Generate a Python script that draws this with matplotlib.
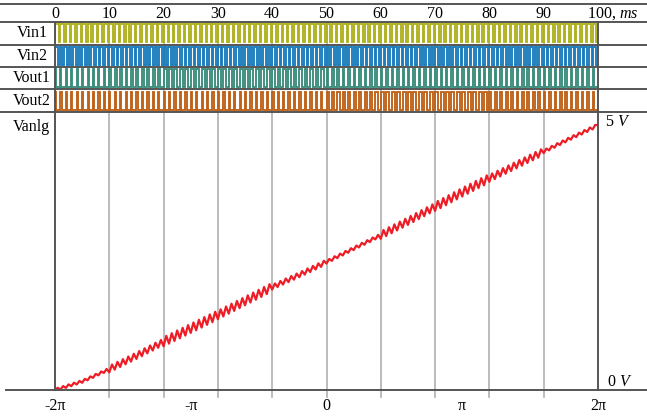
import numpy as np
import matplotlib
matplotlib.use("Agg")
import matplotlib.pyplot as plt
from matplotlib.lines import Line2D

plt.rcParams['font.family'] = ['Liberation Serif', 'DejaVu Serif']
plt.rcParams['mathtext.fontset'] = 'custom'
plt.rcParams['mathtext.rm'] = 'Liberation Serif'
plt.rcParams['mathtext.it'] = 'Liberation Serif:italic'

#*********************** values ***********************
time_ticks = [0, 10, 20, 30, 40, 50, 60, 70, 80, 90]
time_labels = ["0", "10", "20", "30", "40", "50", "60", "70", "80", "90"]

row_names = ["Vin1", "Vin2", "Vout1", "Vout2"]
row_colors = ["#aeb21c", "#1a7cbd", "#3a8c7c", "#bf6218"]
pulse_counts = [100, 120, 100, 100]          # pulses over 0..100 ms
# duty cycle of every 10 ms stretch
vin1_duty = [0.72, 0.72, 0.72, 0.72, 0.72, 0.72, 0.72, 0.72, 0.72, 0.72]
vin2_duty = [0.62, 0.62, 0.62, 0.62, 0.62, 0.62, 0.62, 0.62, 0.62, 0.62]
vout1_duty = [0.18, 0.35, 0.55, 0.55, 0.45, 0.3, 0.28, 0.28, 0.28, 0.28]
vout2_duty = [0.22, 0.22, 0.22, 0.22, 0.25, 0.4, 0.55, 0.55, 0.35, 0.3]
duties = [vin1_duty, vin2_duty, vout1_duty, vout2_duty]

# analog output, volts, every 5 ms
vanlg_t = [0, 5, 10, 15, 20, 25, 30, 35, 40, 45, 50,
           55, 60, 65, 70, 75, 80, 85, 90, 95, 100]
vanlg_v = [0.0, 0.16, 0.39, 0.64, 0.90, 1.15, 1.40, 1.66, 1.92, 2.15, 2.39,
           2.64, 2.89, 3.15, 3.42, 3.69, 3.95, 4.20, 4.45, 4.70, 4.94]
ripple_pp = [0.05, 0.12, 0.17, 0.16, 0.09, 0.06, 0.14, 0.16, 0.13, 0.06]
ripple_cycles = 100

phase_ticks = [-2 * np.pi, -np.pi, 0, np.pi, 2 * np.pi]
phase_labels = ["-2\u03c0", "-\u03c0", "0", "\u03c0", "2\u03c0"]

#*********************** layout helpers ***********************
W, H = 647, 416
fig = plt.figure(figsize=(W / 100, H / 100), dpi=100)

def fx(x):
    return x / W

def fy(y):
    return 1 - y / H

def hline(y, x0, x1, color="#555555", lw=1.4):
    fig.add_artist(Line2D([fx(x0), fx(x1)], [fy(y), fy(y)], color=color, lw=lw,
                          transform=fig.transFigure, zorder=5))

def vline(x, y0, y1, color="#555555", lw=1.4):
    fig.add_artist(Line2D([fx(x), fx(x)], [fy(y0), fy(y1)], color=color, lw=lw,
                          transform=fig.transFigure, zorder=5))

left, right = 55, 598
sig_top, sig_bot, main_bot = 22, 112, 390

ax_sig = fig.add_axes([fx(left), fy(sig_bot), fx(right - left), (sig_bot - sig_top) / H])
ax = fig.add_axes([fx(left), fy(main_bot), fx(right - left), (main_bot - sig_bot) / H])
for a in (ax_sig, ax):
    for s in a.spines.values():
        s.set_visible(False)
    a.set_yticks([])

#*********************** digital rows ***********************
def pulse_train(n, duty, lo, hi):
    t, y = [], []
    T = 100.0 / n
    for i in range(n):
        t0 = i * T
        d = duty[min(int(t0 // 10), 9)]
        t += [t0, t0, t0 + d * T, t0 + d * T]
        y += [lo, hi, hi, lo]
    t.append(100.0)
    y.append(lo)
    return t, y

ax_sig.set_xlim(0, 100)
ax_sig.set_ylim(0, 4)
ax_sig.set_xticks([])
for tk in time_ticks[1:]:
    ax_sig.axvline(tk, color="#b0b0b0", lw=1.2, zorder=0)
for k, name in enumerate(row_names):
    base = 3 - k
    t, y = pulse_train(pulse_counts[k], duties[k], base + 0.1, base + 0.9)
    ax_sig.plot(t, y, color=row_colors[k], lw=1.35, solid_joinstyle="miter")
    fig.text(fx(32), fy(sig_top + 11.3 + 22.5 * k), name, ha="center", va="center", fontsize=11.5)

for tk, lab in zip(time_ticks, time_labels):
    ax_sig.text(tk, 1.0, lab, transform=ax_sig.get_xaxis_transform(), ha="center",
                va="bottom", fontsize=11.5)
fig.text(fx(587), fy(14), "100, $\\mathit{ms}$", ha="left", va="center", fontsize=11.5)

#*********************** analog output ***********************
t_fine = np.arange(0, 2 * ripple_cycles + 1) * (100.0 / (2 * ripple_cycles))
v_fine = np.interp(t_fine, vanlg_t, vanlg_v)
sign = np.where(np.arange(len(t_fine)) % 2 == 0, -0.5, 0.5)
amp = np.array([ripple_pp[min(int(tt // 10), 9)] for tt in t_fine])
v_fine = v_fine + sign * amp
v_fine[0], v_fine[-1] = vanlg_v[0], vanlg_v[-1]
phase = -2 * np.pi + t_fine * 4 * np.pi / 100

ax.set_xlim(-2 * np.pi, 2 * np.pi)
ax.set_ylim(0, (main_bot - sig_bot) / 53.6)
for tk in time_ticks[1:]:
    ax.axvline(-2 * np.pi + tk * 4 * np.pi / 100, ymin=-0.026, ymax=1, color="#b0b0b0",
               lw=1.2, zorder=0, clip_on=False)
ax.plot(phase, v_fine, color="#ee1c25", lw=1.6)
ax.set_xticks(phase_ticks)
ax.set_xticklabels(phase_labels, fontsize=11.5)
ax.tick_params(axis="x", length=0, pad=6)

fig.text(fx(31), fy(127), "Vanlg", ha="center", va="center", fontsize=11.5)
fig.text(fx(605), fy(122), "5 $\\mathit{V}$", ha="left", va="center", fontsize=11.5)
fig.text(fx(607), fy(382), "0 $\\mathit{V}$", ha="left", va="center", fontsize=11.5)

#*********************** frame lines ***********************
hline(4, 0, W)
for yy in [22, 45, 67, 89, 112]:
    hline(yy, 0, W)
hline(main_bot, 6, W)
vline(left, sig_top, main_bot)
vline(right, sig_top, main_bot)

fig.savefig("out.png", dpi=100)
